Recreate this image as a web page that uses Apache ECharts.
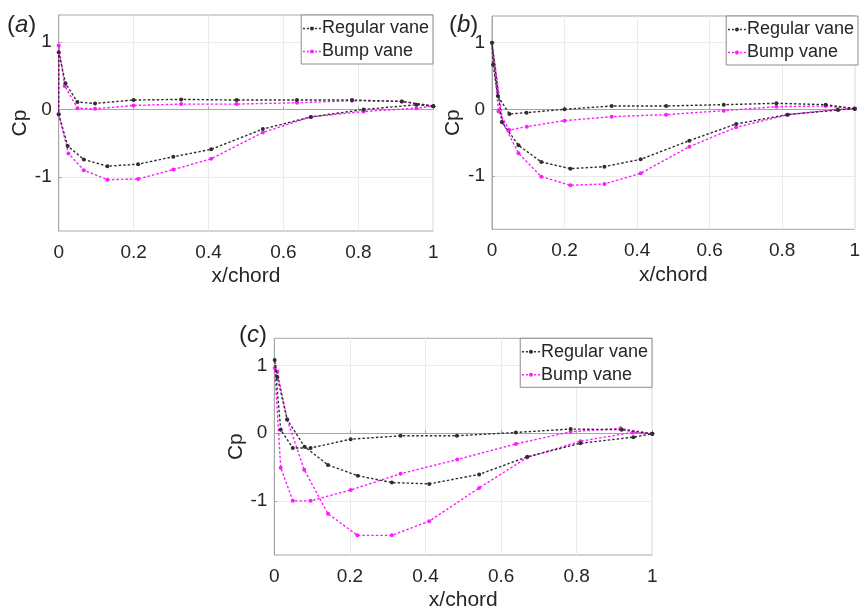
<!DOCTYPE html>
<html><head><meta charset="utf-8">
<script src="https://cdn.jsdelivr.net/npm/echarts@6/dist/echarts.min.js"></script>
<style>html,body{margin:0;padding:0;background:#fff}#c{width:863px;height:612px}</style>
</head><body><div id="c"></div>
<script>
const panelLabels = ['a', 'b', 'c'];
const seriesNames = ['Regular vane', 'Bump vane'];
const xTicks = [0, 0.2, 0.4, 0.6, 0.8, 1];
const yTicks = [-1, 0, 1];

// Panel (a)
const aRegX  = [1.0,0.916,0.783,0.636,0.475,0.327,0.2,0.097,0.05,0.018,0,0,0.024,0.067,0.13,0.212,0.306,0.407,0.545,0.673,0.814,0.955,1.0];
const aRegY  = [0.05,0.12,0.14,0.14,0.14,0.15,0.14,0.09,0.11,0.39,0.85,-0.07,-0.54,-0.74,-0.84,-0.81,-0.70,-0.59,-0.29,-0.11,0.0,0.07,0.05];
const aBumpX = [1.0,0.916,0.783,0.636,0.475,0.327,0.2,0.097,0.05,0.016,0,0,0.026,0.067,0.13,0.212,0.306,0.407,0.545,0.673,0.814,0.955,1.0];
const aBumpY = [0.05,0.12,0.13,0.10,0.08,0.08,0.06,0.01,0.02,0.35,0.95,-0.07,-0.65,-0.90,-1.04,-1.03,-0.89,-0.73,-0.34,-0.11,-0.03,0.02,0.05];

// Panel (b)
const bRegX  = [1.0,0.92,0.784,0.639,0.48,0.33,0.2,0.095,0.048,0.016,0.003,0,0.027,0.073,0.136,0.216,0.31,0.41,0.544,0.673,0.814,0.954,1.0];
const bRegY  = [0.01,0.07,0.09,0.07,0.05,0.05,0.0,-0.05,-0.07,0.2,0.67,1.0,-0.19,-0.54,-0.79,-0.89,-0.86,-0.75,-0.47,-0.22,-0.08,-0.01,0.01];
const bBumpX = [1.0,0.92,0.784,0.639,0.48,0.33,0.2,0.096,0.048,0.018,0,0.03,0.073,0.136,0.216,0.31,0.41,0.544,0.673,0.816,0.952,1.0];
const bBumpY = [0.01,0.05,0.04,-0.02,-0.08,-0.11,-0.17,-0.26,-0.31,-0.03,1.0,-0.2,-0.66,-1.01,-1.14,-1.12,-0.96,-0.56,-0.27,-0.08,0.0,0.01];

// Panel (c)
const cRegX  = [1.0,0.919,0.784,0.639,0.483,0.334,0.202,0.096,0.049,0.017,0.001,0.008,0.034,0.08,0.142,0.221,0.311,0.41,0.542,0.669,0.81,0.95,1.0];
const cRegY  = [-0.01,0.05,0.06,0.01,-0.04,-0.04,-0.09,-0.22,-0.22,0.05,1.08,0.83,0.2,-0.2,-0.47,-0.63,-0.73,-0.75,-0.61,-0.35,-0.15,-0.06,-0.01];
const cBumpX = [1.0,0.916,0.784,0.639,0.484,0.334,0.202,0.096,0.049,0.017,0.001,0.008,0.034,0.079,0.142,0.22,0.311,0.41,0.542,0.669,0.81,0.948,1.0];
const cBumpY = [-0.01,0.07,0.02,-0.16,-0.39,-0.6,-0.84,-1.0,-1.0,-0.51,0.96,0.91,0.2,-0.54,-1.19,-1.51,-1.51,-1.3,-0.81,-0.36,-0.12,0.01,-0.01];

const panels = [
  {reg: [aRegX, aRegY], bump: [aBumpX, aBumpY]},
  {reg: [bRegX, bRegY], bump: [bBumpX, bBumpY]},
  {reg: [cRegX, cRegY], bump: [cBumpX, cBumpY]}
];

const FONT = "'Liberation Sans', Arial, sans-serif";
const TXT = '#262626';
const BOX = '#a6a6a6';
const GRIDC = '#ebebeb';
const colors = ['#2e2e2e', '#ff1aff'];

const grids = [
  {left: 58.7, top: 15, width: 374.6, height: 216},
  {left: 492, top: 16, width: 367.3, height: 213.3},
  {left: 274.3, top: 338.3, width: 378, height: 217}
];
const legendPos = [
  {right: 430, top: 15},
  {right: 5, top: 16},
  {right: 211, top: 338.3}
];
const labelPos = [
  {left: 2, top: 8},
  {left: 444, top: 8},
  {left: 234, top: 318}
];

const zip = (xs, ys) => xs.map((x, i) => [x, ys[i]]);

const option = {
  animation: false,
  backgroundColor: '#fff',
  textStyle: {fontFamily: FONT},
  title: panelLabels.map((l, i) => ({
    text: '{p|(}{i|' + l + '}{p|)}',
    left: labelPos[i].left, top: labelPos[i].top,
    textStyle: {
      fontWeight: 'normal',
      rich: {
        p: {fontSize: 24, color: TXT, fontFamily: FONT, fontWeight: 'normal'},
        i: {fontSize: 24, color: TXT, fontFamily: FONT, fontStyle: 'italic', fontWeight: 'normal'}
      }
    }
  })),
  grid: grids.map(g => Object.assign({show: true, borderColor: BOX, borderWidth: 1, backgroundColor: '#fff'}, g)),
  legend: legendPos.map(p => ({
    data: seriesNames,
    right: p.right, top: p.top,
    orient: 'vertical',
    backgroundColor: '#fff',
    borderColor: '#8c8c8c', borderWidth: 1,
    padding: [3, 4, 2, 1],
    itemGap: 2,
    itemWidth: 18, itemHeight: 5,
    lineStyle: {type: [2, 2], width: 1.4},
    textStyle: {fontSize: 18, lineHeight: 21, color: TXT, fontFamily: FONT, padding: [0, 0, 0, -4]},
    selectedMode: false
  })),
  xAxis: grids.map((g, i) => ({
    type: 'value', gridIndex: i, min: 0, max: 1, interval: 0.2,
    name: 'x/chord', nameLocation: 'middle', nameGap: 35,
    nameTextStyle: {fontSize: 21, color: TXT, fontFamily: FONT},
    axisLine: {show: true, lineStyle: {color: BOX}},
    axisTick: {show: true, inside: true, length: 3, lineStyle: {color: BOX}},
    axisLabel: {fontSize: 19, color: TXT, margin: 12, fontFamily: FONT},
    splitLine: {show: true, lineStyle: {color: GRIDC, width: 1}}
  })),
  yAxis: grids.map((g, i) => ({
    type: 'value', gridIndex: i, min: -1.8, max: 1.4,
    name: 'Cp', nameLocation: 'middle', nameGap: 28, nameRotate: 90,
    nameTextStyle: {fontSize: 21, color: TXT, fontFamily: FONT},
    axisLine: {show: true, lineStyle: {color: BOX}},
    axisTick: {show: true, inside: true, length: 3, lineStyle: {color: BOX}, customValues: yTicks},
    axisLabel: {fontSize: 19, color: TXT, margin: 7, fontFamily: FONT, customValues: yTicks},
    splitLine: {show: true, lineStyle: {color: GRIDC, width: 1}}
  })),
  series: []
};

panels.forEach((p, i) => {
  [p.reg, p.bump].forEach((d, k) => {
    option.series.push({
      name: seriesNames[k],
      type: 'line',
      xAxisIndex: i, yAxisIndex: i,
      data: zip(d[0], d[1]),
      symbol: 'circle', symbolSize: 4,
      showSymbol: true,
      itemStyle: {color: colors[k]},
      lineStyle: {color: colors[k], width: 1.4, type: [2.5, 2]},
      z: k === 0 ? 3 : 2
    });
  });
});

const chart = echarts.init(document.getElementById('c'), null, {renderer: 'canvas'});
chart.setOption(option);
</script>
</body></html>
